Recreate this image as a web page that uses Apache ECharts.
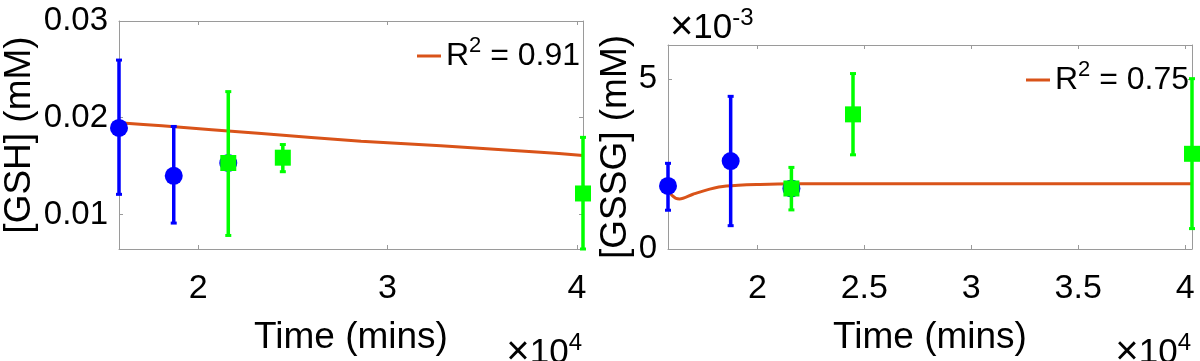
<!DOCTYPE html>
<html>
<head>
<meta charset="utf-8">
<script src="https://cdn.jsdelivr.net/npm/echarts@6/dist/echarts.min.js"></script>
<style>
  html, body { margin: 0; padding: 0; background: #fff; }
  #chart { width: 1200px; height: 361px; }
</style>
</head>
<body>
<div id="chart"></div>
<script>
  // time axis (mins)
  var timeMin = 15820
  var timeMax = 40320
  var timeTicksGsh = [20000, 30000, 40000]
  var timeTicksGssg = [20000, 25000, 30000, 35000, 40000]

  // [GSH] panel
  var gshTicks = [0.01, 0.02, 0.03]
  var gshBlueT = [15820, 18710, 21590]
  var gshBlueMean = [0.01894, 0.0140, 0.01532]
  var gshBlueLow = [0.01208, 0.00911, 0.0150]
  var gshBlueHigh = [0.02596, 0.0191, 0.0157]
  var gshGreenT = [21590, 24470, 40320]
  var gshGreenMean = [0.01532, 0.01587, 0.01217]
  var gshGreenLow = [0.00783, 0.01442, 0.00643]
  var gshGreenHigh = [0.0227, 0.01723, 0.01797]
  var gshFitT = [15820, 18090, 23340, 28600, 32810, 38070, 40320]
  var gshFitV = [0.01947, 0.01916, 0.01836, 0.01758, 0.0171, 0.01643, 0.0161]

  // [GSSG] panel
  var gssgTicks = [0, 0.005]
  var gssgBlueT = [15820, 18750, 21590]
  var gssgBlueMean = [0.001854, 0.002586, 0.00178]
  var gssgBlueLow = [0.00114, 0.000686, 0.00174]
  var gssgBlueHigh = [0.00252, 0.00449, 0.00183]
  var gssgGreenT = [21590, 24470, 40320]
  var gssgGreenMean = [0.00178, 0.00396, 0.0028]
  var gssgGreenLow = [0.00115, 0.00277, 0.0006]
  var gssgGreenHigh = [0.0024, 0.00516, 0.00501]
  var gssgFitT = [15820, 16000, 16360, 16990, 17770, 18550, 20120, 21680, 40320]
  var gssgFitV = [0.00185, 0.00158, 0.00147, 0.00161, 0.00176, 0.00185, 0.0019, 0.00192, 0.00192]

  var FONT = 'Liberation Sans'
  var AXIS = '#9a9a9a'
  var ORANGE = '#D95319'
  var BLUE = '#0000FF'
  var GREEN = '#00FF00'

  function zip(a, b) {
    return a.map(function (v, i) { return [v, b[i]] })
  }
  function zip4(t, m, lo, hi) {
    return t.map(function (v, i) { return [v, m[i], lo[i], hi[i]] })
  }

  function errRender(color) {
    return function (params, api) {
      var top = api.coord([api.value(0), api.value(3)])
      var bot = api.coord([api.value(0), api.value(2)])
      return {
        type: 'group',
        children: [
          { type: 'line', shape: { x1: top[0], y1: top[1], x2: bot[0], y2: bot[1] }, style: { stroke: color, lineWidth: 3.5 } },
          { type: 'rect', shape: { x: top[0] - 3, y: top[1] - 1.5, width: 6, height: 3 }, style: { fill: color } },
          { type: 'rect', shape: { x: bot[0] - 3, y: bot[1] - 1.5, width: 6, height: 3 }, style: { fill: color } }
        ]
      }
    }
  }

  function xAxes(grid, ticks, pos) {
    return {
      type: 'value', gridIndex: grid, position: pos, min: timeMin, max: timeMax,
      splitLine: { show: false },
      axisLine: { show: true, onZero: false, lineStyle: { color: AXIS, width: 1 } },
      axisTick: { show: true, inside: true, length: 4, customValues: ticks, lineStyle: { color: AXIS } },
      axisLabel: {
        show: pos === 'bottom', customValues: ticks, margin: 23,
        color: '#000', fontSize: 34, fontFamily: FONT,
        formatter: function (v) { return String(v / 10000) }
      },
      name: pos === 'bottom' ? 'Time (mins)' : '',
      nameLocation: 'middle', nameGap: 70,
      nameTextStyle: { color: '#000', fontSize: 37, fontFamily: FONT }
    }
  }

  function yAxes(grid, min, max, ticks, pos, name, gap, fmt) {
    return {
      type: 'value', gridIndex: grid, position: pos, min: min, max: max,
      splitLine: { show: false },
      axisLine: { show: true, onZero: false, lineStyle: { color: AXIS, width: 1 } },
      axisTick: { show: true, inside: true, length: 4, customValues: ticks, lineStyle: { color: AXIS } },
      axisLabel: {
        show: pos === 'left', customValues: ticks, margin: 11, padding: [8, 0, 0, 0],
        color: '#000', fontSize: 33, fontFamily: FONT, formatter: fmt
      },
      name: pos === 'left' ? name : '',
      nameLocation: 'middle', nameGap: gap, nameRotate: 90,
      nameTextStyle: { color: '#000', fontSize: 37, fontFamily: FONT }
    }
  }

  var legendRich = {
    b: { fontSize: 32, fontFamily: FONT, color: '#000', lineHeight: 42 },
    s: { fontSize: 22, fontFamily: FONT, color: '#000', lineHeight: 22, verticalAlign: 'top' }
  }
  var expRich = {
    x: { fontSize: 40, fontFamily: FONT, color: '#000', lineHeight: 44 },
    b: { fontSize: 35, fontFamily: FONT, color: '#000', lineHeight: 44 },
    s: { fontSize: 24, fontFamily: FONT, color: '#000', lineHeight: 24, verticalAlign: 'top' }
  }
  function legendFmt(name) {
    return '{b|R}{s|2}{b|' + name.slice(2) + '}'
  }

  var gshFmt = function (v) { return v.toFixed(2) }
  var gssgFmt = function (v) { return String(Math.round(v * 1000)) }

  var chart = echarts.init(document.getElementById('chart'), null, { renderer: 'canvas' })
  chart.setOption({
    animation: false,
    backgroundColor: '#fff',
    grid: [
      { left: 117, top: 21, width: 466, height: 244 },
      { left: 668, top: 45, width: 524, height: 219 }
    ],
    xAxis: [
      xAxes(0, timeTicksGsh, 'bottom'),
      xAxes(0, timeTicksGsh, 'top'),
      xAxes(1, timeTicksGssg, 'bottom'),
      xAxes(1, timeTicksGssg, 'top')
    ],
    yAxis: [
      yAxes(0, 0.00643, 0.03, gshTicks, 'left', '[GSH] (mM)', 81, gshFmt),
      yAxes(0, 0.00643, 0.03, gshTicks, 'right', '', 0, gshFmt),
      yAxes(1, 0, 0.006, gssgTicks, 'left', '[GSSG] (mM)', 31, gssgFmt),
      yAxes(1, 0, 0.006, gssgTicks, 'right', '', 0, gssgFmt)
    ],
    legend: [
      {
        data: ['R2 = 0.91'], left: 412, top: 30, icon: 'rect', itemWidth: 24, itemHeight: 3,
        formatter: legendFmt, textStyle: { rich: legendRich }
      },
      {
        data: ['R2 = 0.75'], left: 1021, top: 54, icon: 'rect', itemWidth: 24, itemHeight: 3,
        formatter: legendFmt, textStyle: { rich: legendRich }
      }
    ],
    graphic: [
      {
        type: 'text', x: 582, y: 375,
        style: { text: '{x|×}{b|10}{s|4}', rich: expRich, align: 'right', verticalAlign: 'bottom' }
      },
      {
        type: 'text', x: 1191, y: 375,
        style: { text: '{x|×}{b|10}{s|4}', rich: expRich, align: 'right', verticalAlign: 'bottom' }
      },
      {
        type: 'text', x: 670, y: 50,
        style: { text: '{x|×}{b|10}{s|-3}', rich: expRich, align: 'left', verticalAlign: 'bottom' }
      }
    ],
    series: [
      {
        name: 'R2 = 0.91', type: 'line', xAxisIndex: 0, yAxisIndex: 0, smooth: 0.3,
        symbol: 'none', data: zip(gshFitT, gshFitV), color: ORANGE,
        lineStyle: { color: ORANGE, width: 3 }, z: 1
      },
      {
        type: 'custom', xAxisIndex: 0, yAxisIndex: 0, clip: false, z: 2,
        renderItem: errRender(BLUE), data: zip4(gshBlueT, gshBlueMean, gshBlueLow, gshBlueHigh)
      },
      {
        type: 'scatter', xAxisIndex: 0, yAxisIndex: 0, clip: false, z: 3,
        symbol: 'circle', symbolSize: 18, itemStyle: { color: BLUE, opacity: 1 },
        data: zip(gshBlueT, gshBlueMean)
      },
      {
        type: 'custom', xAxisIndex: 0, yAxisIndex: 0, clip: false, z: 4,
        renderItem: errRender(GREEN), data: zip4(gshGreenT, gshGreenMean, gshGreenLow, gshGreenHigh)
      },
      {
        type: 'scatter', xAxisIndex: 0, yAxisIndex: 0, clip: false, z: 5,
        symbol: 'rect', symbolSize: 16, itemStyle: { color: GREEN, opacity: 1 },
        data: zip(gshGreenT, gshGreenMean)
      },
      {
        name: 'R2 = 0.75', type: 'line', xAxisIndex: 2, yAxisIndex: 2, smooth: 0.3,
        symbol: 'none', data: zip(gssgFitT, gssgFitV), color: ORANGE,
        lineStyle: { color: ORANGE, width: 3 }, z: 1
      },
      {
        type: 'custom', xAxisIndex: 2, yAxisIndex: 2, clip: false, z: 2,
        renderItem: errRender(BLUE), data: zip4(gssgBlueT, gssgBlueMean, gssgBlueLow, gssgBlueHigh)
      },
      {
        type: 'scatter', xAxisIndex: 2, yAxisIndex: 2, clip: false, z: 3,
        symbol: 'circle', symbolSize: 18, itemStyle: { color: BLUE, opacity: 1 },
        data: zip(gssgBlueT, gssgBlueMean)
      },
      {
        type: 'custom', xAxisIndex: 2, yAxisIndex: 2, clip: false, z: 4,
        renderItem: errRender(GREEN), data: zip4(gssgGreenT, gssgGreenMean, gssgGreenLow, gssgGreenHigh)
      },
      {
        type: 'scatter', xAxisIndex: 2, yAxisIndex: 2, clip: false, z: 5,
        symbol: 'rect', symbolSize: 16, itemStyle: { color: GREEN, opacity: 1 },
        data: zip(gssgGreenT, gssgGreenMean)
      }
    ]
  })
</script>
</body>
</html>
